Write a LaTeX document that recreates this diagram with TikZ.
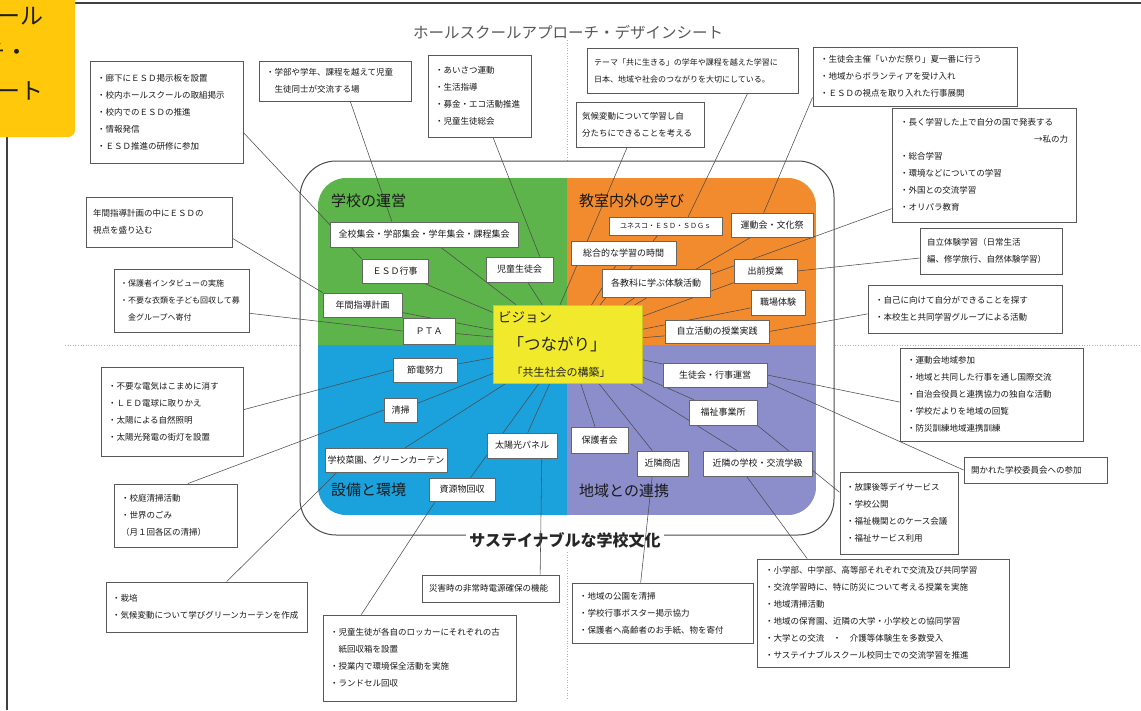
\documentclass[tikz,border=0pt]{standalone}
\usepackage{fontspec}
\setmainfont{Noto Sans CJK JP}
\usetikzlibrary{calc}
\definecolor{qgreen}{HTML}{5DB44A}
\definecolor{qorange}{HTML}{F28A2E}
\definecolor{qblue}{HTML}{1BA1DB}
\definecolor{qpurple}{HTML}{8B8ECB}
\definecolor{visyellow}{HTML}{F0E92C}
\definecolor{tabyellow}{HTML}{FFC80A}
\pgfdeclarelayer{bgzero}
\pgfdeclarelayer{bgone}
\pgfsetlayers{bgzero,bgone,main}
\tikzset{
 ob/.style={draw=black!65, line width=0.9pt, fill=white, align=left, font=\fontsize{8.5}{17}\selectfont, text=black!90, inner sep=0pt},
 ib/.style={draw=black!60, line width=0.7pt, fill=white, font=\fontsize{9}{10}\selectfont, text=black!90, inner sep=1pt},
 conn/.style={draw=black!70, line width=0.55pt},
 qlabel/.style={font=\fontsize{15}{16}\selectfont, text=black!90, anchor=west, inner sep=0pt},
 tabtext/.style={font=\fontsize{23}{24}\selectfont, text=black!88, inner sep=0pt},
 visline/.style={text=black!85, inner sep=0pt},
}
\begin{document}
\begin{tikzpicture}[x=1pt,y=-1pt]
\useasboundingbox (0,0) rectangle (1141,710);
\begin{pgfonlayer}{bgzero}
\fill[white] (0,0) rectangle (1141,710);
\draw[black!75, line width=1.2pt] (75,3) -- (1141,3);
\draw[black!75, line width=1.2pt] (7,137) -- (7,710);
\draw[gray!60, dotted, line width=0.6pt] (567,40) -- (567,700);
\draw[gray!60, dotted, line width=0.6pt] (65,345) -- (1141,345);
\draw[black!70, line width=1pt, fill=white, rounded corners=36] (300,161) rectangle (834,535);
\begin{scope}
\clip[rounded corners=28] (318,178) rectangle (816,515);
\fill[qgreen] (318,178) rectangle (567,345);
\fill[qorange] (567,178) rectangle (816,345);
\fill[qblue] (318,345) rectangle (567,515);
\fill[qpurple] (567,345) rectangle (816,515);
\end{scope}
\node[fill=white, inner sep=3pt, font=\fontsize{16}{17}\selectfont\bfseries, text=black!85] (culture) at (565,540) {サステイナブルな学校文化};
\end{pgfonlayer}

% yellow tab (cut at the picture's edge, as in the reference)
\begin{scope}
\clip (0,0) rectangle (76,138);
\fill[tabyellow, rounded corners=7] (-10,-10) rectangle (75,137);
\node[tabtext, anchor=base east] (tab1) at (44,24) {ホールスクール};
\node[tabtext, anchor=base east] (tab2) at (29,60) {アプローチ・};
\node[tabtext, anchor=base east] (tab3) at (44,99) {デザインシート};
\end{scope}

% title
\node[font=\fontsize{15.5}{16}\selectfont, text=black!65, inner sep=0pt] (title) at (568,32) {ホールスクールアプローチ・デザインシート};

% quadrant labels
\node[qlabel] (lab1) at (331,201) {学校の運営};
\node[qlabel] (lab2) at (579,201) {教室内外の学び};
\node[qlabel] (lab3) at (331,490) {設備と環境};
\node[qlabel] (lab4) at (579,491) {地域との連携};

% vision
\node[fill=visyellow, draw=visyellow!85!black, line width=0.3pt, minimum width=149, minimum height=78, inner sep=0pt] (vis) at (567.5,344) {};
\node[visline, font=\fontsize{13.5}{14}\selectfont] (vis1) at (525,317) {ビジョン};
\node[visline, font=\fontsize{16.5}{17}\selectfont] (vis2) at (557,344) {「つながり」};
\node[visline, font=\fontsize{11}{12}\selectfont] (vis3) at (561,372) {「共生社会の構築」};

% inner boxes
\node[ib, minimum width=188, minimum height=25] (zenko) at (424,234.5) {全校集会・学部集会・学年集会・課程集会};
\node[ib, minimum width=66, minimum height=24] (esd) at (395,271) {ＥＳＤ行事};
\node[ib, minimum width=67, minimum height=25] (jido) at (519.5,269.5) {児童生徒会};
\node[ib, minimum width=79, minimum height=24] (nenkan) at (362.5,305) {年間指導計画};
\node[ib, minimum width=52, minimum height=26] (pta) at (429,331) {ＰＴＡ};
\node[ib, minimum width=113, minimum height=18, font=\fontsize{7}{8}\selectfont] (sdgs) at (665.5,226) {ユネスコ・ＥＳＤ・ＳＤＧｓ};
\node[ib, minimum width=82, minimum height=24] (undokai) at (772,225) {運動会・文化祭};
\node[ib, minimum width=105, minimum height=24] (sogo) at (623.5,253) {総合的な学習の時間};
\node[ib, minimum width=108, minimum height=28] (kakukyoka) at (656,283) {各教科に学ぶ体験活動};
\node[ib, minimum width=63, minimum height=24] (demae) at (765.5,271) {出前授業};
\node[ib, minimum width=54, minimum height=25] (shokuba) at (778,302.5) {職場体験};
\node[ib, minimum width=104, minimum height=23] (jiritsu) at (717,331.5) {自立活動の授業実践};
\node[ib, minimum width=104, minimum height=24] (seitokai) at (715,375) {生徒会・行事運営};
\node[ib, minimum width=68, minimum height=25] (fukushi) at (723,412.5) {福祉事業所};
\node[ib, minimum width=57, minimum height=26] (hogosha) at (599.5,440) {保護者会};
\node[ib, minimum width=51, minimum height=25] (kshoten) at (662.5,463.5) {近隣商店};
\node[ib, minimum width=109, minimum height=25] (kgakko) at (757.5,463.5) {近隣の学校・交流学級};
\node[ib, minimum width=64, minimum height=24] (setsuden) at (425,370) {節電努力};
\node[ib, minimum width=33, minimum height=24] (kyushoku) at (400.5,410) {清掃};
\node[ib, minimum width=122, minimum height=24] (saien) at (386,460) {学校菜園、グリーンカーテン};
\node[ib, minimum width=70, minimum height=25] (taiyoko) at (522,445.5) {太陽光パネル};
\node[ib, minimum width=66, minimum height=23] (haihin) at (462,489.5) {資源物回収};

% outer boxes
\node[ob, minimum width=153, minimum height=102, text width=139] (A) at (166.5,112) {・廊下にＥＳＤ掲示板を設置\\・校内ホールスクールの取組掲示\\・校内でのＥＳＤの推進\\・情報発信\\・ＥＳＤ推進の研修に参加};
\node[ob, minimum width=152, minimum height=40, text width=138] (B) at (335,81) {・学部や学年、課程を越えて児童\\　生徒同士が交流する場};
\node[ob, minimum width=103, minimum height=82, text width=89] (C) at (479.5,96) {・あいさつ運動\\・生活指導\\・募金・エコ活動推進\\・児童生徒総会};
\node[ob, minimum width=211, minimum height=45, text width=197, font=\fontsize{8}{17}\selectfont] (D) at (692.5,70.5) {テーマ「共に生きる」の学年や課程を越えた学習に\\日本、地域や社会のつながりを大切にしている。};
\node[ob, minimum width=128, minimum height=45, text width=116] (E) at (640,124.5) {気候変動について学習し自\\分たちにできることを考える};
\node[ob, minimum width=204, minimum height=59, text width=190] (F) at (915,76.5) {・生徒会主催「いかだ祭り」夏一番に行う\\・地域からボランティアを受け入れ\\・ＥＳＤの視点を取り入れた行事展開};
\node[ob, minimum width=184, minimum height=114, text width=168] (G) at (984,165) {・長く学習した上で自分の国で発表する\\\mbox{}\hfill→私の力\\・総合学習\\・環境などについての学習\\・外国との交流学習\\・オリパラ教育};
\node[ob, minimum width=142, minimum height=46, text width=128] (H) at (991,251) {自立体験学習（日常生活\\編、修学旅行、自然体験学習）};
\node[ob, minimum width=194, minimum height=48, text width=180] (I) at (965,309) {・自己に向けて自分ができることを探す\\・本校生と共同学習グループによる活動};
\node[ob, minimum width=183, minimum height=93, text width=169] (J) at (991.5,394.5) {・運動会地域参加\\・地域と共同した行事を通し国際交流\\・自治会役員と連携協力の独自な活動\\・学校だよりを地域の回覧\\・防災訓練地域連携訓練};
\node[ob, minimum width=143, minimum height=26, text width=129] (K) at (1035.5,470) {開かれた学校委員会への参加};
\node[ob, minimum width=118, minimum height=82, text width=106] (L) at (899,513) {・放課後等デイサービス\\・学校公開\\・福祉機関とのケース会議\\・福祉サービス利用};
\node[ob, minimum width=252, minimum height=108, text width=236] (M) at (883,613) {・小学部、中学部、高等部それぞれで交流及び共同学習\\・交流学習時に、特に防災について考える授業を実施\\・地域清掃活動\\・地域の保育園、近隣の大学・小学校との協同学習\\・大学との交流　・　介護等体験生を多数受入\\・サステイナブルスクール校同士での交流学習を推進};
\node[ob, minimum width=181, minimum height=60, text width=167] (N) at (662.5,613) {・地域の公園を清掃\\・学校行事ポスター掲示協力\\・保護者へ高齢者のお手紙、物を寄付};
\node[ob, minimum width=137, minimum height=27, text width=123] (O) at (490.5,588.5) {災害時の非常時電源確保の機能};
\node[ob, minimum width=193, minimum height=86, text width=179] (P) at (419.5,658) {・児童生徒が各自のロッカーにそれぞれの古\\　紙回収箱を設置\\・授業内で環境保全活動を実施\\・ランドセル回収};
\node[ob, minimum width=201, minimum height=50, text width=189] (Q) at (206.5,607) {・栽培\\・気候変動について学びグリーンカーテンを作成};
\node[ob, minimum width=123, minimum height=63, text width=109] (R) at (175.5,515.5) {・校庭清掃活動\\・世界のごみ\\（月１回各区の清掃）};
\node[ob, minimum width=142, minimum height=89, text width=128] (S) at (172,411.5) {・不要な電気はこまめに消す\\・ＬＥＤ電球に取りかえ\\・太陽による自然照明\\・太陽光発電の街灯を設置};
\node[ob, minimum width=146, minimum height=50, text width=132] (T) at (159,222) {年間指導計画の中にＥＳＤの\\視点を盛り込む};
\node[ob, minimum width=135, minimum height=63, text width=123, font=\fontsize{8}{17}\selectfont] (U) at (181.5,300.5) {・保護者インタビューの実施\\・不要な衣類を子ども回収して募\\　金グループへ寄付};

% connectors
\begin{pgfonlayer}{bgone}
\foreach \n in {zenko,esd,jido,nenkan,pta,sdgs,undokai,sogo,kakukyoka,demae,shokuba,jiritsu,seitokai,fukushi,hogosha,kshoten,kgakko,setsuden,kyushoku,saien,taiyoko,haihin}
  \draw[conn] (vis) -- (\n);
\draw[conn] ($(A.north east)!0.7!(A.south east)$) -- (esd.north west);
\draw[conn] ($(B.south west)!0.6!(B.south east)$) -- ($(zenko.north west)!0.33!(zenko.north east)$);
\draw[conn] ($(C.south west)!0.63!(C.south east)$) -- ($(jido.north west)!0.8!(jido.north east)$);
\draw[conn] ($(D.south west)!0.76!(D.south east)$) -- ($(sdgs.north west)!0.7!(sdgs.north east)$);
\draw[conn] ($(E.south west)!0.4!(E.south east)$) -- ($(vis.north west)!0.45!(vis.north east)$);
\draw[conn] ($(F.north west)!0.85!(F.south west)$) -- ($(undokai.north west)!0.4!(undokai.north east)$);
\draw[conn] ($(G.north west)!0.88!(G.south west)$) -- ($(kakukyoka.north east)!0.2!(kakukyoka.south east)$);
\draw[conn] ($(H.north west)!0.65!(H.south west)$) -- (demae.east);
\draw[conn] ($(I.north west)!0.6!(I.south west)$) -- (jiritsu.east);
\draw[conn] ($(J.north west)!0.58!(J.south west)$) -- (seitokai.east);
\draw[conn] (K.west) -- ($(seitokai.north east)!0.8!(seitokai.south east)$);
\draw[conn] ($(L.north west)!0.25!(L.south west)$) -- (fukushi.south east);
\draw[conn] ($(M.north west)!0.2!(M.north east)$) -- ($(kgakko.south west)!0.4!(kgakko.south east)$);
\draw[conn] ($(N.north west)!0.38!(N.north east)$) -- ($(kshoten.south west)!0.3!(kshoten.south east)$);
\draw[conn] ($(O.north west)!0.86!(O.north east)$) -- ($(taiyoko.south west)!0.78!(taiyoko.south east)$);
\draw[conn] ($(P.north west)!0.2!(P.north east)$) -- ($(haihin.south west)!0.1!(haihin.south east)$);
\draw[conn] ($(Q.north west)!0.6!(Q.north east)$) -- ($(saien.south west)!0.1!(saien.south east)$);
\draw[conn] ($(R.north west)!0.6!(R.north east)$) -- (kyushoku.west);
\draw[conn] ($(S.north east)!0.48!(S.south east)$) -- (setsuden.west);
\draw[conn] ($(T.north east)!0.82!(T.south east)$) -- (nenkan.north west);
\draw[conn] ($(U.north east)!0.7!(U.south east)$) -- (pta.west);
\end{pgfonlayer}
\end{tikzpicture}
\end{document}
